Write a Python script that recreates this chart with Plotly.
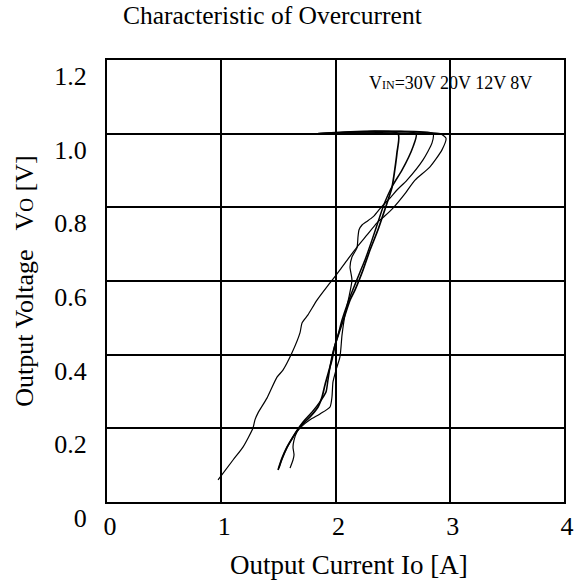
import plotly.graph_objects as go

# ---- axes ----
x_tick_vals = [0, 1, 2, 3, 4]
x_tick_text = ["0", "1", "2", "3", "4"]
y_tick_vals = [0, 0.2, 0.4, 0.6, 0.8, 1.0, 1.2]
y_tick_text = ["0", "0.2", "0.4", "0.6", "0.8", "1.0", "1.2"]

# ---- curves (Output Current Io [A], Output Voltage Vo [V]) ----
series_names = ["VIN=30V", "VIN=20V", "VIN=12V", "VIN=8V"]

io_30 = [1.847, 2.547, 2.538, 2.495, 2.460, 2.416, 2.372, 2.302, 2.241, 2.171, 2.127, 2.083,
         2.039, 1.996, 1.969, 1.908, 1.882, 1.847, 1.777, 1.689, 1.628, 1.575, 1.532, 1.497]
vo_30 = [1.0, 1.0, 0.948, 0.855, 0.820, 0.779, 0.739, 0.684, 0.630, 0.576, 0.548, 0.508,
         0.467, 0.426, 0.386, 0.318, 0.285, 0.258, 0.231, 0.204, 0.176, 0.149, 0.119, 0.087]

io_20 = [1.847, 2.705, 2.678, 2.582, 2.503, 2.460, 2.416, 2.372, 2.319, 2.258, 2.214, 2.144,
         2.101, 2.057, 2.022, 1.978, 1.952, 1.934, 1.917, 1.864, 1.794, 1.716, 1.654, 1.602,
         1.558, 1.523, 1.505]
vo_20 = [1.0, 1.0, 0.964, 0.901, 0.861, 0.834, 0.801, 0.760, 0.711, 0.657, 0.624, 0.570,
         0.535, 0.494, 0.453, 0.407, 0.367, 0.331, 0.299, 0.272, 0.244, 0.217, 0.190, 0.163,
         0.136, 0.109, 0.092]

io_12 = [1.847, 2.853, 2.845, 2.766, 2.626, 2.538, 2.477, 2.416, 2.372, 2.328, 2.267, 2.232,
         2.206, 2.197, 2.188, 2.144, 2.127, 2.144, 2.118, 2.083, 2.057, 2.039, 2.004, 1.978,
         1.969, 1.952, 1.864, 1.777, 1.707, 1.663, 1.637, 1.628, 1.637, 1.628, 1.602]
vo_12 = [1.0, 1.0, 0.975, 0.929, 0.874, 0.847, 0.825, 0.806, 0.790, 0.774, 0.760, 0.752,
         0.739, 0.720, 0.690, 0.665, 0.638, 0.603, 0.557, 0.508, 0.453, 0.394, 0.358, 0.326,
         0.285, 0.258, 0.239, 0.223, 0.206, 0.190, 0.168, 0.149, 0.128, 0.114, 0.092]

io_8 = [1.847, 2.915, 2.967, 2.932, 2.827, 2.696, 2.600, 2.503, 2.433, 2.363, 2.276, 2.188,
        2.110, 2.039, 1.952, 1.838, 1.759, 1.707, 1.689, 1.619, 1.540, 1.488, 1.400, 1.322,
        1.295, 1.278, 1.190, 1.103, 0.972]
vo_8 = [1.0, 1.0, 0.988, 0.956, 0.910, 0.874, 0.834, 0.798, 0.777, 0.758, 0.725, 0.692,
        0.660, 0.630, 0.595, 0.548, 0.508, 0.486, 0.459, 0.405, 0.358, 0.339, 0.282, 0.242,
        0.223, 0.201, 0.149, 0.114, 0.060]

curves = [(io_30, vo_30, 1.7), (io_20, vo_20, 1.5), (io_12, vo_12, 1.2), (io_8, vo_8, 1.2)]

FONT = "Liberation Serif, Times New Roman, serif"

fig = go.Figure()
for name, (xs, ys, w) in zip(series_names, curves):
    fig.add_trace(go.Scatter(x=xs, y=ys, mode="lines", name=name,
                             line=dict(color="black", width=w, shape="spline", smoothing=0.6),
                             showlegend=False, hoverinfo="skip"))

fig.update_layout(
    width=577, height=585,
    margin=dict(l=107, r=13, t=60, b=83, autoexpand=False),
    paper_bgcolor="white", plot_bgcolor="white",
    font=dict(family=FONT, color="black", size=26),
    title=dict(text="Characteristic of Overcurrent", x=0.472, xanchor="center",
               y=0.99, yanchor="top", font=dict(family=FONT, size=25.5, color="black")),
    showlegend=False,
)

fig.update_xaxes(range=[0, 4], tickvals=x_tick_vals, ticktext=x_tick_text,
                 showgrid=True, gridcolor="black", gridwidth=1.5,
                 showline=True, mirror=True, linecolor="black", linewidth=2,
                 zeroline=False, ticks="", ticklabelshift=3, ticklabelstandoff=0,
                 automargin=False,
                 tickfont=dict(family=FONT, size=26))
fig.update_yaxes(range=[0, 1.2], tickvals=y_tick_vals, ticktext=y_tick_text,
                 showgrid=True, gridcolor="black", gridwidth=2.2,
                 showline=True, mirror=True, linecolor="black", linewidth=2,
                 zeroline=False, ticks="", ticklabelshift=16, ticklabelstandoff=13,
                 automargin=False,
                 tickfont=dict(family=FONT, size=26),
                 title=dict(text="Output Voltage   V<span style='font-size:19px'>O</span> [V]",
                            standoff=13, font=dict(family=FONT, size=26)))

# x-axis title (placed as in the reference, slightly right of centre)
fig.add_annotation(xref="paper", yref="paper", x=0.53, y=-0.143,
                   xanchor="center", yanchor="middle", showarrow=False,
                   text="Output Current Io [A]",
                   font=dict(family=FONT, size=27, color="black"))

fig.add_annotation(xref="paper", yref="paper", x=0.751, y=0.948,
                   xanchor="center", yanchor="middle", showarrow=False,
                   text="V<span style='font-size:12px'>IN</span>=30V 20V 12V 8V",
                   font=dict(family=FONT, size=18, color="black"))

fig.write_html("out.html", config={"displayModeBar": False},
               post_script="document.body.style.margin='0';")
